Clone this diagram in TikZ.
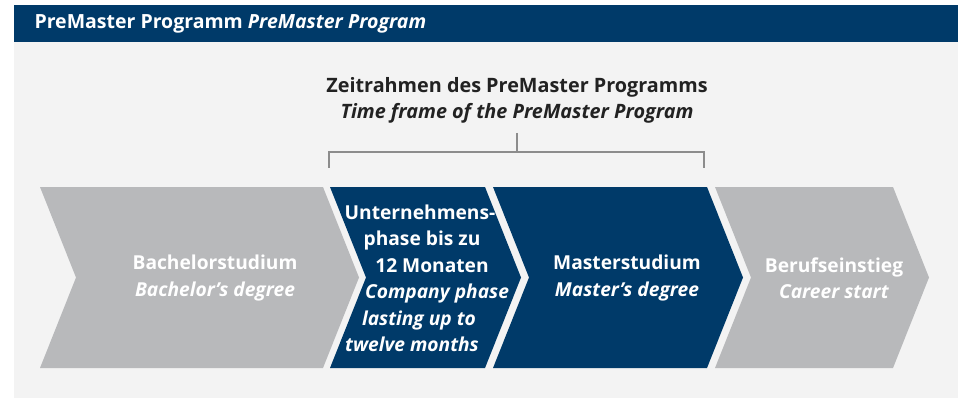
\documentclass[tikz,border=0pt]{standalone}
\usepackage{fontspec}
\setmainfont{Open Sans}
\usepackage{xcolor}
\usepackage{tikz}
\usetikzlibrary{positioning}

\definecolor{premblue}{HTML}{003A69}
\definecolor{stepgrey}{HTML}{B8B9BB}
\definecolor{panelgrey}{HTML}{F3F3F3}
\definecolor{bracketgrey}{HTML}{8C8C8C}
\definecolor{titleink}{HTML}{222222}

\begin{document}
\begin{tikzpicture}[x=1pt, y=-1pt,
    steptext/.style={white, align=center, font=\bfseries\fontsize{19.2}{26.5}\selectfont},
    titletext/.style={titleink, align=center, font=\bfseries\fontsize{19.8}{26}\selectfont}]

\useasboundingbox (0,0) rectangle (960,398);

% ── Background panel and header bar ─────────────────────────────
\fill[panelgrey] (14,42) rectangle (958,398);
\fill[premblue] (14,5) rectangle (958,42);
\node[anchor=west, white, font=\bfseries\fontsize{19.5}{21}\selectfont] (header) at (31,23.5)
    {PreMaster Programm \textit{PreMaster Program}};

% ── Time frame title and bracket ───────────────────────────────
\node[titletext] (frame) at (517,100)
    {Zeitrahmen des PreMaster Programms\\\textit{Time frame of the PreMaster Program}};

\coordinate (brl) at (329,168);
\coordinate (brr) at (704,168);
\coordinate (brm) at (517,133);
\draw[bracketgrey, line width=1.6pt]
    (brl) -- (329,152) -- (704,152) -- (brr);
\draw[bracketgrey, line width=1.6pt] (brm) -- (517,152);

% ── Step 1: Bachelor ───────────────────────────────────────────
\fill[stepgrey] (40,187) -- (323,187) -- (359,277.5) -- (323,368) -- (40,368) -- (76,277.5) -- cycle;
\node[steptext] (bachelor) at (215,278)
    {Bachelorstudium\\\textit{Bachelor’s degree}};

% ── Step 2: Company phase (lines follow the chevron edge) ──────
\fill[premblue] (330,187) -- (485,187) -- (521,277.5) -- (485,368) -- (330,368) -- (366,277.5) -- cycle;
\node[steptext] (company) at (420,278.5)
    {Unternehmens-\\\hspace*{4pt}phase bis zu\\\hspace*{24pt}12 Monaten\\
     \hspace*{34pt}\textit{Company phase}\\\hspace*{-2pt}\textit{lasting up to}\\
     \hspace*{-16pt}\textit{twelve months}};

% ── Step 3: Master ─────────────────────────────────────────────
\fill[premblue] (493,187) -- (707,187) -- (743,277.5) -- (707,368) -- (493,368) -- (529,277.5) -- cycle;
\node[steptext] (master) at (627,278)
    {Masterstudium\\\textit{Master’s degree}};

% ── Step 4: Career ─────────────────────────────────────────────
\fill[stepgrey] (715,187) -- (893,187) -- (929,277.5) -- (893,368) -- (715,368) -- (751,277.5) -- cycle;
\node[steptext] (career) at (834,278)
    {Berufseinstieg\\\textit{Career start}};

\end{tikzpicture}
\end{document}
